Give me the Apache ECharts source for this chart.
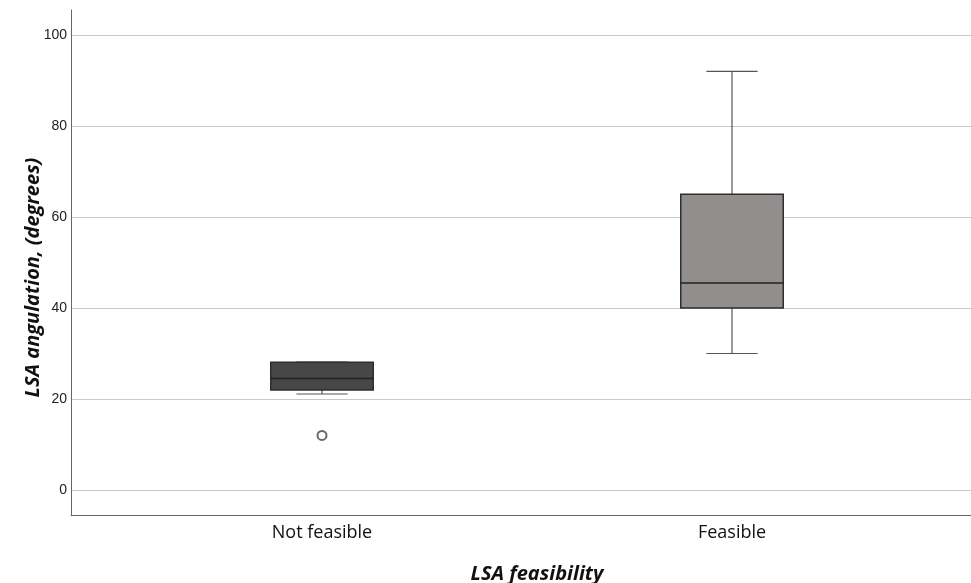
<!DOCTYPE html>
<html>
<head>
<meta charset="utf-8">
<script src="https://cdn.jsdelivr.net/npm/echarts@6/dist/echarts.min.js"></script>
<style>
  html, body { margin: 0; padding: 0; background: #fff; }
  #main { width: 971px; height: 583px; }
</style>
</head>
<body>
<div id="main"></div>
<script>
// данные графика
const categories = ['Not feasible', 'Feasible'];
const lowerWhisker = [21.1, 30];
const q1 = [22, 40];
const median = [24.5, 45.5];
const q3 = [28.1, 65];
const upperWhisker = [28.1, 92];
const outliers = [[0, 12]];
const yTicks = [0, 20, 40, 60, 80, 100];

const boxColors = ['#474747', '#928e8d'];

let boxData = categories.map((c, i) => [i, lowerWhisker[i], q1[i], median[i], q3[i], upperWhisker[i]]);

let chart = echarts.init(document.getElementById('main'));

function renderBox(params, api) {
    let i = api.value(0);
    let bw = api.size([1, 0])[0] * 0.25;
    let capW = bw / 2;
    let pLow = api.coord([i, api.value(1)]);
    let pQ1 = api.coord([i, api.value(2)]);
    let pMed = api.coord([i, api.value(3)]);
    let pQ3 = api.coord([i, api.value(4)]);
    let pHigh = api.coord([i, api.value(5)]);
    let x = pQ1[0];
    let line = {stroke: '#555', lineWidth: 1.2};
    return {
        type: 'group',
        children: [
            {type: 'line', shape: {x1: x, y1: pLow[1], x2: x, y2: pQ1[1]}, style: line},
            {type: 'line', shape: {x1: x, y1: pQ3[1], x2: x, y2: pHigh[1]}, style: line},
            {type: 'line', shape: {x1: x - capW / 2, y1: pLow[1], x2: x + capW / 2, y2: pLow[1]}, style: line},
            {type: 'line', shape: {x1: x - capW / 2, y1: pHigh[1], x2: x + capW / 2, y2: pHigh[1]}, style: line},
            {type: 'rect', shape: {x: x - bw / 2, y: pQ3[1], width: bw, height: pQ1[1] - pQ3[1]},
             style: {fill: boxColors[i], stroke: '#2e2e2e', lineWidth: 1.5}},
            {type: 'line', shape: {x1: x - bw / 2, y1: pMed[1], x2: x + bw / 2, y2: pMed[1]},
             style: {stroke: '#222', lineWidth: 1.5}}
        ]
    };
}

chart.setOption({
    animation: false,
    grid: [
        {left: 71, right: 0, top: 10, bottom: 68, outerBoundsMode: 'none', containLabel: false},
        {left: 117, right: 34, top: 10, bottom: 68, outerBoundsMode: 'none', containLabel: false}
    ],
    xAxis: [
        {
            gridIndex: 0,
            type: 'value',
            min: 0,
            max: 1,
            axisLine: {show: true, onZero: false, lineStyle: {color: '#666', width: 1}},
            axisTick: {show: false},
            axisLabel: {show: false},
            splitLine: {show: false},
            name: 'LSA feasibility',
            nameLocation: 'middle',
            nameGap: 49,
            nameMoveOverlap: false,
            nameTextStyle: {fontFamily: 'Open Sans', fontSize: 20, fontWeight: 'bold', fontStyle: 'italic', color: '#111', padding: [0, 0, 0, 32]}
        },
        {
            gridIndex: 1,
            type: 'category',
            data: categories,
            axisLine: {show: false},
            axisTick: {show: false},
            axisLabel: {margin: 9, fontFamily: 'Open Sans', fontSize: 18, color: '#111'}
        }
    ],
    yAxis: [
        {
            gridIndex: 0,
            type: 'value',
            min: -5.5,
            max: 105.5,
            splitNumber: 5,
            axisLine: {show: true, lineStyle: {color: '#666', width: 1}},
            axisTick: {show: false},
            axisLabel: {
                showMinLabel: false, showMaxLabel: false, margin: 4,
                fontFamily: 'Liberation Sans', fontSize: 14, color: '#222',
                formatter: v => yTicks.includes(v) ? String(v) : ''
            },
            splitLine: {show: true, showMinLine: false, showMaxLine: false, lineStyle: {color: '#c8c8c8', width: 1}},
            name: 'LSA angulation, (degrees)',
            nameLocation: 'middle',
            nameGap: 28,
            nameMoveOverlap: false,
            nameTextStyle: {fontFamily: 'Open Sans', fontSize: 20, fontWeight: 'bold', fontStyle: 'italic', color: '#111', padding: [0, 30, 0, 0]}
        },
        {
            gridIndex: 1,
            type: 'value',
            min: -5.5,
            max: 105.5,
            show: false,
            splitLine: {show: false}
        }
    ],
    series: [
        {
            type: 'custom',
            xAxisIndex: 1,
            yAxisIndex: 1,
            renderItem: renderBox,
            encode: {x: 0, y: [1, 2, 3, 4, 5]},
            data: boxData
        },
        {
            type: 'scatter',
            xAxisIndex: 1,
            yAxisIndex: 1,
            symbol: 'emptyCircle',
            symbolSize: 9,
            itemStyle: {color: '#444', borderColor: '#444', borderWidth: 1},
            data: outliers
        }
    ]
});
</script>
</body>
</html>
